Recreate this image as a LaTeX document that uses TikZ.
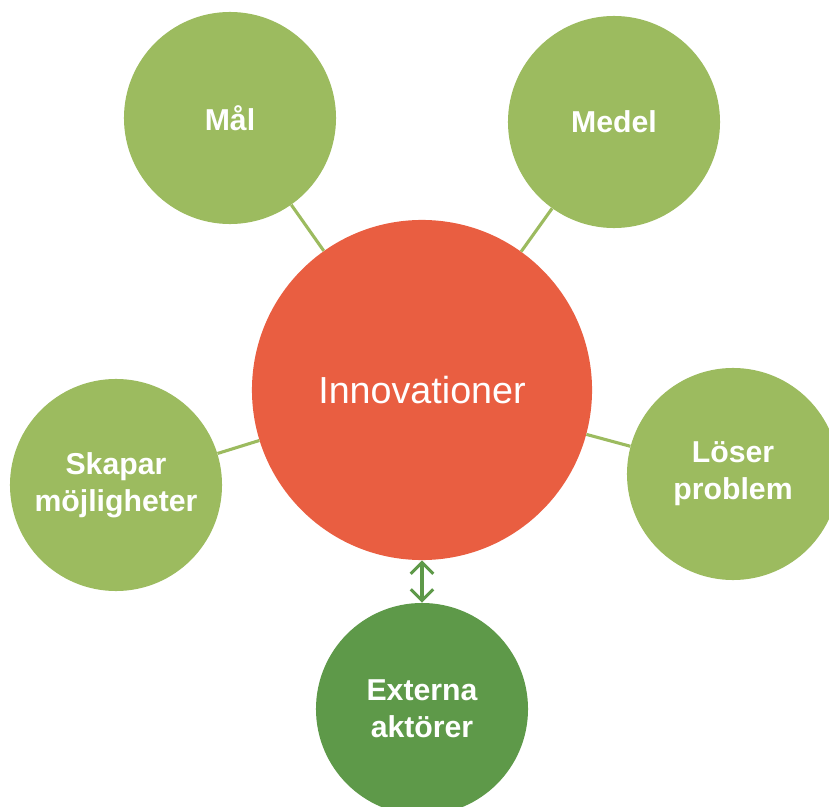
\documentclass[tikz,border=0pt]{standalone}
\usepackage{fontspec}
\setmainfont{Liberation Sans}
\usepackage{tikz}
\usetikzlibrary{positioning}
\usetikzlibrary{arrows.meta}
\definecolor{innored}{HTML}{E95E41}
\definecolor{leafgreen}{HTML}{9CBB5F}
\definecolor{deepgreen}{HTML}{5E9949}
\tikzset{
  core/.style={circle,fill=innored,minimum size=8.5cm,inner sep=0pt,text=white,
    font=\fontsize{26.8}{32}\selectfont},
  goal/.style={circle,fill=leafgreen,minimum size=5.3cm,inner sep=0pt,text=white,
    align=center,font=\fontsize{21.5}{26.5}\selectfont\bfseries},
  actor/.style={goal,fill=deepgreen},
  link/.style={draw=leafgreen,line width=2.2pt},
  twoway/.style={draw=deepgreen,line width=2.2pt,
    {Straight Barb[length=8pt,width=16pt]}-{Straight Barb[length=8pt,width=16pt]}}
}

\begin{document}
\begin{tikzpicture}[x=0.025cm,y=-0.025cm]
        \clip (0,0) rectangle (829,807);
        \node[core] (inno) at (422,390) {Innovationer};
        \node[goal] (mal) at (230,118) {Mål};
        \node[goal] (medel) at (614,122) {Medel};
        \node[goal] (skapar) at (116,485) {Skapar\\möjligheter};
        \node[goal] (loser) at (733,474) {Löser\\problem};
        \node[actor] (externa) at (422,709) {Externa\\aktörer};

        \draw[link] (inno) -- (mal);
        \draw[link] (inno) -- (medel);
        \draw[link] (inno) -- (skapar);
        \draw[link] (inno) -- (loser);
        \draw[twoway] (inno) -- (externa);
      \end{tikzpicture}
\end{document}
